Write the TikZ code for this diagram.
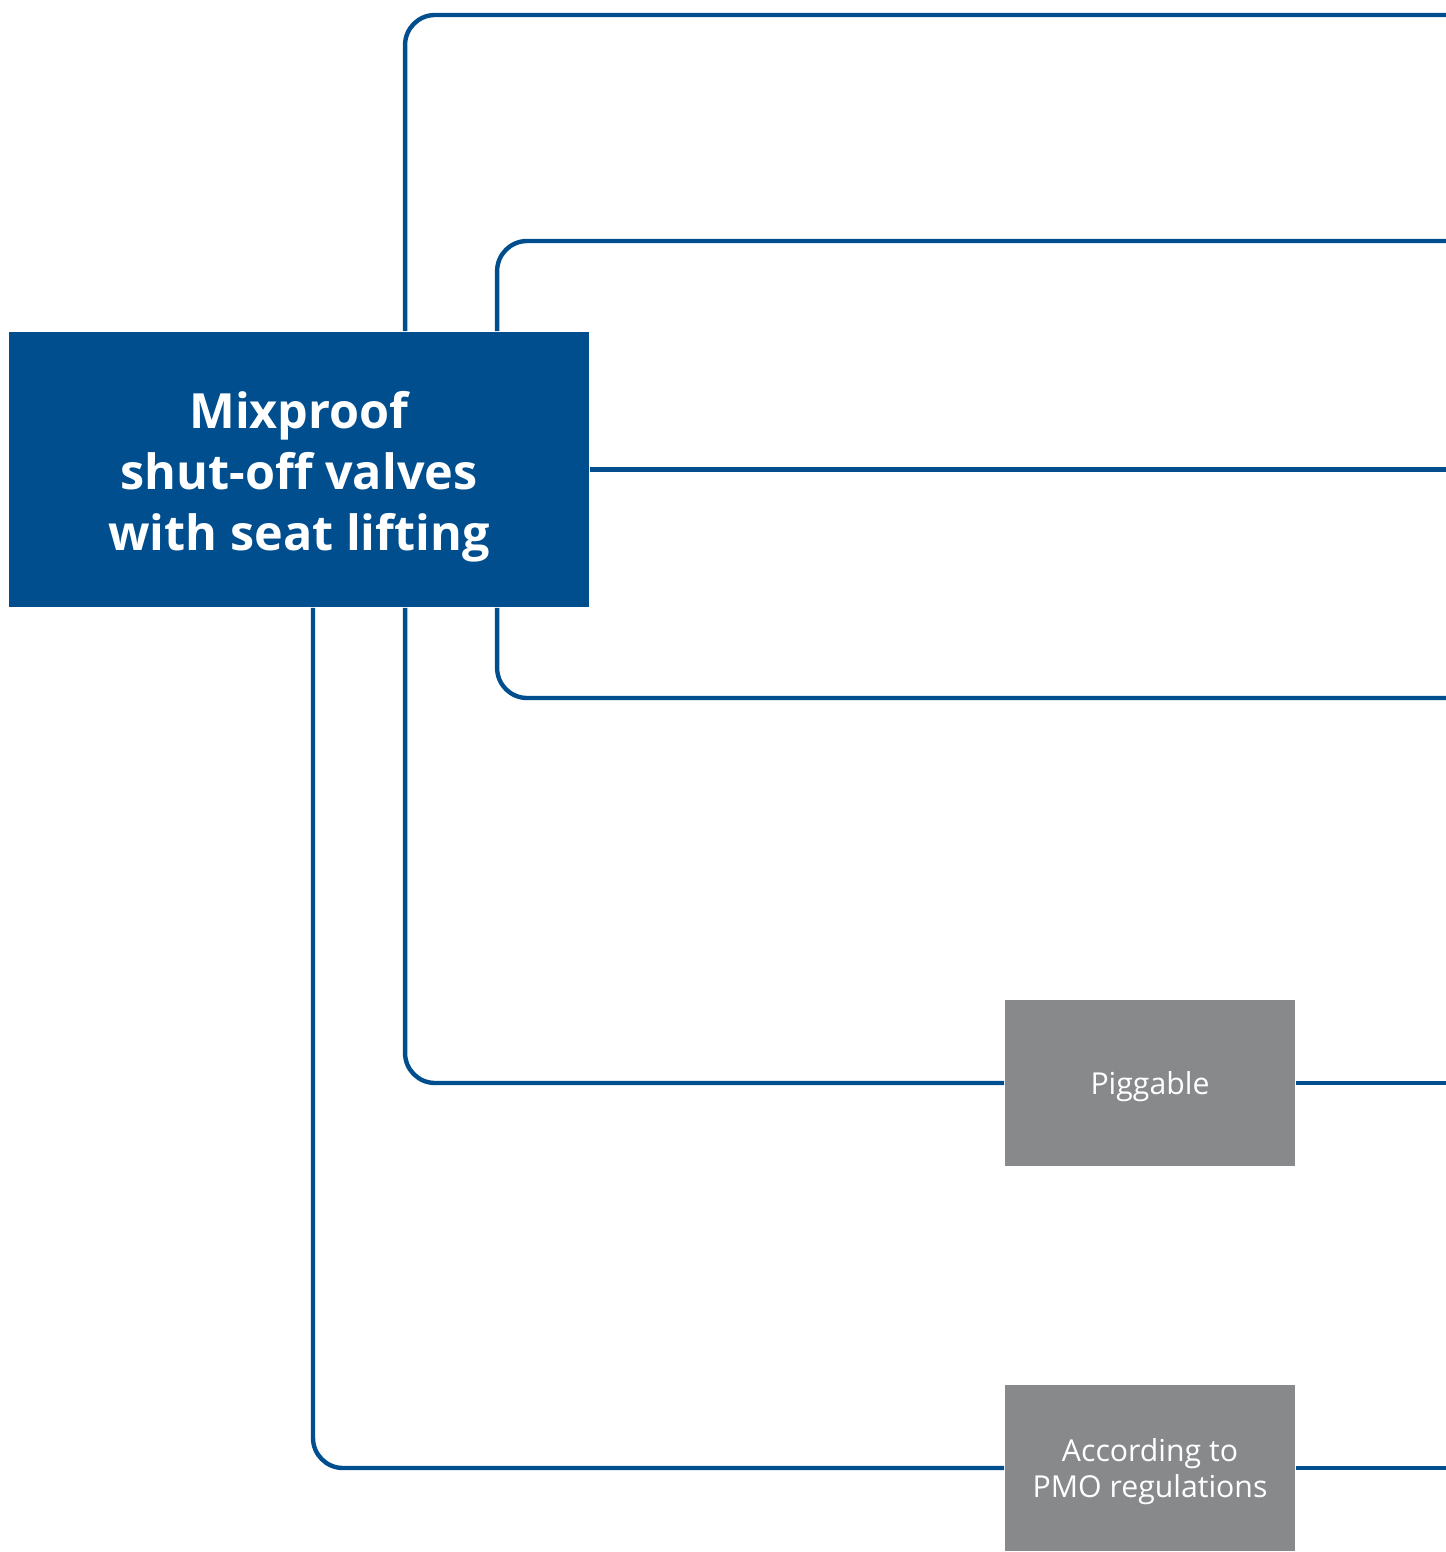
\documentclass[tikz,border=0pt]{standalone}
\usepackage{fontspec}
\setmainfont{Open Sans}
\usetikzlibrary{positioning}
\definecolor{valveblue}{RGB}{0,78,142}
\definecolor{optgrey}{RGB}{136,137,139}

\begin{document}
\begin{tikzpicture}[
  x=0.01cm,y=-0.01cm,
  every node/.style={font=\small},
  valvebox/.style={fill=valveblue,minimum width=5.8cm,minimum height=2.75cm,
    inner sep=0pt},
  valvetext/.style={text=white,align=center,inner sep=0pt,
    font=\fontsize{13.8}{17.4}\selectfont\bfseries},
  option/.style={fill=optgrey,minimum width=2.9cm,minimum height=1.66cm,
    inner sep=0pt},
  optiontext/.style={text=white,align=center,inner sep=0pt,
    font=\fontsize{8.6}{10.2}\selectfont},
  link/.style={draw=valveblue,line width=1.25pt,rounded corners=0.3cm}
]
  \useasboundingbox (0,0) rectangle (1446,1552);
  \node[valvebox] (main) at (299,469.5) {};
  \node[valvetext] (title) at (299,477)
    {Mixproof\\shut-off valves\\with seat lifting};
  \node[option] (pig) at (1150,1083) {};
  \node[optiontext] (pigtext) at (1150,1087) {Piggable};
  \node[option] (pmo) at (1150,1468) {};
  \node[optiontext] (pmotext) at (1150,1472) {According to\\PMO regulations};

  % free ends at the right margin
  \coordinate (e1) at (1446,15);
  \coordinate (e2) at (1446,241);
  \coordinate (e3) at (1446,469.5);
  \coordinate (e4) at (1446,698);
  \coordinate (e5) at (1446,1083);
  \coordinate (e6) at (1446,1468);

  \draw[link] ([xshift=1.06cm]main.north) |- (e1);
  \draw[link] ([xshift=1.98cm]main.north) |- (e2);
  \draw[link] (main.east) -- (e3);
  \draw[link] ([xshift=1.98cm]main.south) |- (e4);
  \draw[link] ([xshift=1.06cm]main.south) |- (pig.west);
  \draw[link] (pig.east) -- (e5);
  \draw[link] ([xshift=0.14cm]main.south) |- (pmo.west);
  \draw[link] (pmo.east) -- (e6);
\end{tikzpicture}
\end{document}
